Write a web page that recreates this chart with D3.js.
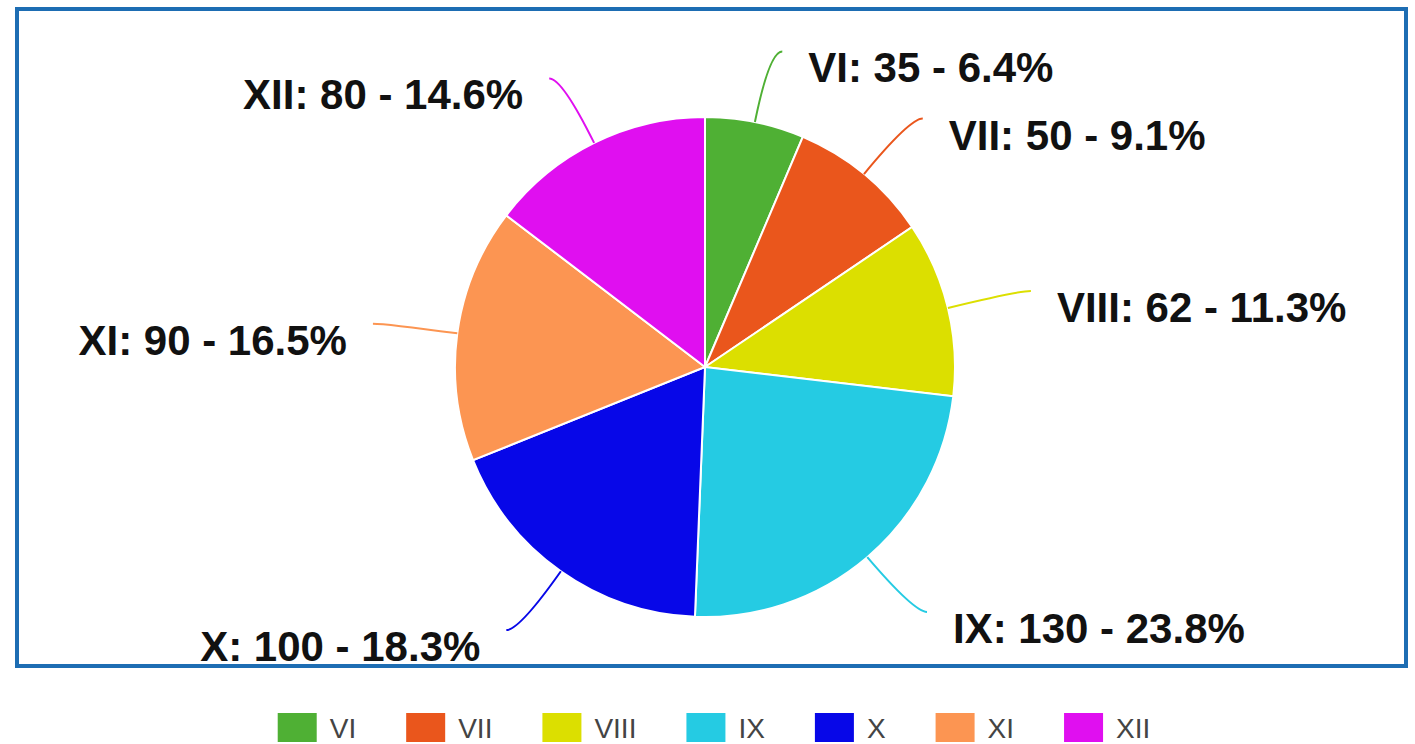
<!DOCTYPE html>
<html>
<head>
<meta charset="utf-8">
<script src="https://cdn.jsdelivr.net/npm/d3@7"></script>
<style>
  html, body { margin: 0; padding: 0; background: #fff; }
  svg { display: block; }
</style>
</head>
<body>
<svg id="chart" width="1415" height="744"></svg>
<script>
const categories = ["VI", "VII", "VIII", "IX", "X", "XI", "XII"];
const values = [35, 50, 62, 130, 100, 90, 80];
const colors = ["#4fb034", "#ea561c", "#dcdf00", "#25cbe3", "#0707e8", "#fc9552", "#e00ff0"];

const W = 1415, H = 744;
const cx = 705, cy = 367, R = 250;
const svg = d3.select("#chart");

// frame
svg.append("rect")
  .attr("x", 17).attr("y", 9)
  .attr("width", 1389).attr("height", 657)
  .attr("fill", "#fff")
  .attr("stroke", "#1d6db3")
  .attr("stroke-width", 4);

const total = d3.sum(values);
const data = categories.map((c, i) => ({ cat: c, value: values[i], color: colors[i] }));

const pie = d3.pie().value(d => d.value).sort(null);
const arc = d3.arc().innerRadius(0).outerRadius(R);
const arcs = pie(data);

const g = svg.append("g").attr("transform", `translate(${cx},${cy})`);

g.selectAll("path.slice")
  .data(arcs)
  .join("path")
  .attr("class", "slice")
  .attr("d", arc)
  .attr("fill", d => d.data.color)
  .attr("stroke", "#fff")
  .attr("stroke-width", 2);

// leader lines & labels
const R1 = 322, hook = 13, gap = 26;
arcs.forEach(d => {
  const a = (d.startAngle + d.endAngle) / 2;
  const sign = Math.sin(a) >= 0 ? 1 : -1;
  const sx = Math.sin(a) * R, sy = -Math.cos(a) * R;
  const qx = Math.sin(a) * R1, qy = -Math.cos(a) * R1;
  const ex = qx + sign * hook, ey = qy;
  const p = d3.path();
  p.moveTo(sx, sy);
  p.quadraticCurveTo(qx, qy, ex, ey);
  g.append("path")
    .attr("d", p.toString())
    .attr("fill", "none")
    .attr("stroke", d.data.color)
    .attr("stroke-width", 2);
  const pct = (d.data.value / total * 100).toFixed(1);
  g.append("text")
    .attr("x", ex + sign * gap)
    .attr("y", ey + 31)
    .attr("text-anchor", sign > 0 ? "start" : "end")
    .attr("font-family", "'Liberation Sans', Arial, sans-serif")
    .attr("font-weight", "bold")
    .attr("font-size", 42)
    .attr("fill", "#111")
    .text(`${d.data.cat}: ${d.data.value} - ${pct}%`);
});

// legend
const legend = svg.append("g");
const sqW = 39, sqH = 29, tGap = 13, itemGap = 50;
let x = 0;
const items = [];
data.forEach(d => {
  const it = legend.append("g");
  it.append("rect").attr("x", 0).attr("y", 0).attr("width", sqW).attr("height", sqH).attr("fill", d.color);
  const t = it.append("text")
    .attr("x", sqW + tGap).attr("y", 25)
    .attr("font-family", "'Liberation Sans', Arial, sans-serif")
    .attr("font-size", 28)
    .attr("fill", "#444")
    .text(d.cat);
  const w = sqW + tGap + t.node().getComputedTextLength();
  items.push({ it, x, w });
  x += w + itemGap;
});
const totalW = x - itemGap;
const lx0 = 714 - totalW / 2;
items.forEach(o => o.it.attr("transform", `translate(${lx0 + o.x},713)`));
</script>
</body>
</html>
